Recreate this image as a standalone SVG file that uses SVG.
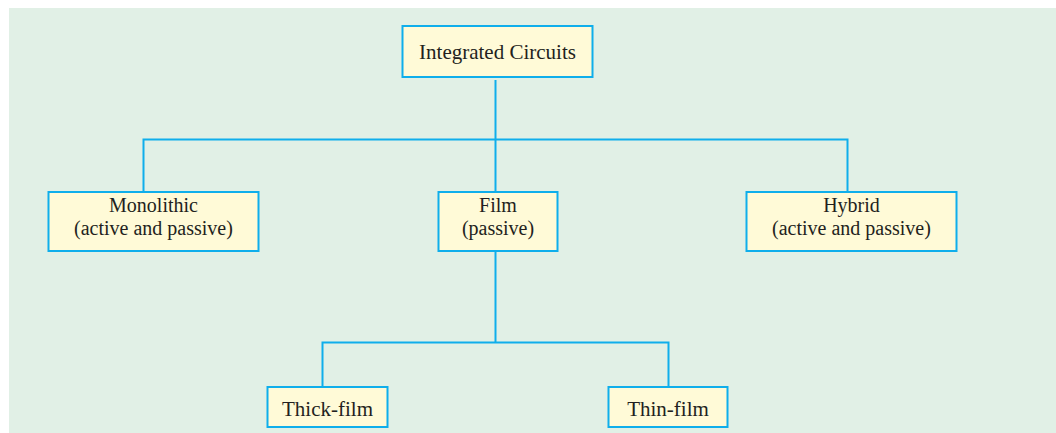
<svg xmlns="http://www.w3.org/2000/svg" width="1056" height="433" viewBox="0 0 1056 433">
<style>
.box{fill:#FFFAD7;stroke:#0FAEEB;stroke-width:2}
.ln{fill:none;stroke:#0FAEEB;stroke-width:2}
text{font-family:"Liberation Serif","Times New Roman",serif;font-size:21px;fill:#231F20;text-anchor:middle}
.two{font-size:20px}
</style>
<rect x="9" y="8" width="1047" height="425" fill="#E1F0E6"/>
<g id="connectors">
<path class="ln" d="M495.5 80V192M143.5 192V139.5H847.5V192M495.5 251V342.5M322.5 387V342.5H668.5V387"/>
</g>
<g id="ic"><rect class="box" x="402.5" y="26" width="190" height="51"/><text x="497.5" y="59">Integrated Circuits</text></g>
<g id="mono"><rect class="box" x="48.5" y="192" width="210" height="59"/><text class="two" x="153.5" y="212">Monolithic</text><text class="two" x="153.5" y="235">(active and passive)</text></g>
<g id="film"><rect class="box" x="438.5" y="192" width="119" height="59"/><text class="two" x="498" y="212">Film</text><text class="two" x="498" y="235">(passive)</text></g>
<g id="hybrid"><rect class="box" x="746.5" y="192" width="210" height="59"/><text class="two" x="851.5" y="212">Hybrid</text><text class="two" x="851.5" y="235">(active and passive)</text></g>
<g id="thick"><rect class="box" x="267.5" y="387" width="120" height="40"/><text x="327.5" y="416">Thick-film</text></g>
<g id="thin"><rect class="box" x="608.5" y="387" width="119" height="40"/><text x="668" y="416">Thin-film</text></g>
</svg>
